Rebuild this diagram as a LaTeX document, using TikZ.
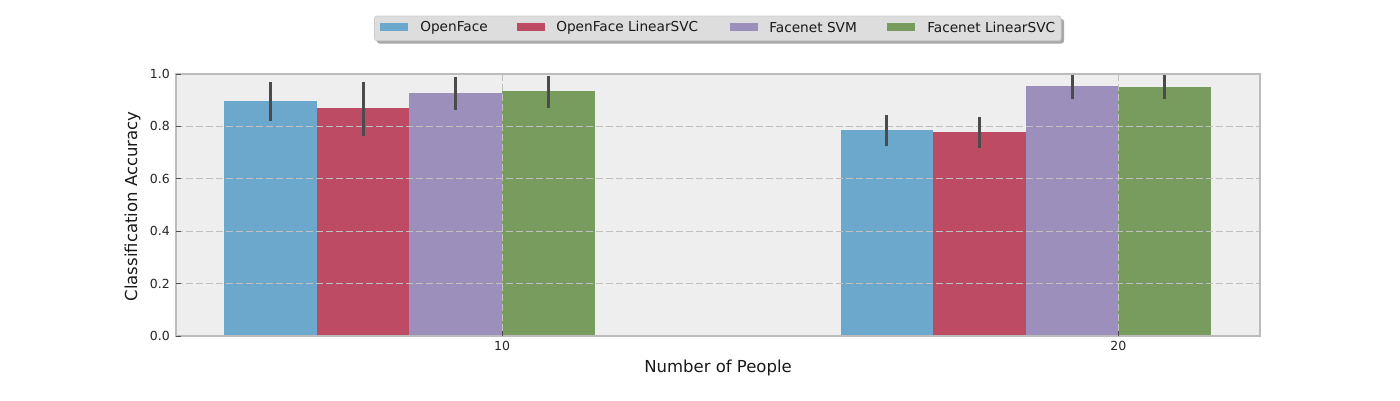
\documentclass[tikz,border=0pt]{standalone}
\usepackage{fontspec}
\setmainfont{DejaVu Sans}
\definecolor{cBlue}{RGB}{107,168,204}
\definecolor{cRed}{RGB}{188,75,99}
\definecolor{cPurple}{RGB}{157,143,187}
\definecolor{cGreen}{RGB}{120,155,94}
\definecolor{axbg}{RGB}{238,238,238}
\definecolor{spine}{RGB}{188,188,188}
\definecolor{gridc}{RGB}{192,192,192}
\definecolor{errc}{RGB}{75,75,75}
\definecolor{legbg}{RGB}{221,221,221}
\definecolor{legedge}{RGB}{204,204,204}
\definecolor{legshadow}{RGB}{168,168,168}
\definecolor{tickc}{RGB}{80,80,80}
\tikzset{
  bar/.style={draw=none},
  errbar/.style={draw=errc,line width=2.4pt},
  gridline/.style={draw=gridc,line width=0.8pt,dash pattern=on 5.6pt off 2.4pt},
  ticklab/.style={font=\fontsize{10}{12}\selectfont,text=black!85,inner sep=0pt},
  axlab/.style={font=\fontsize{13.2}{15}\selectfont,text=black!90,inner sep=0pt},
  leglab/.style={font=\fontsize{10.95}{13}\selectfont,text=black!90,inner sep=0pt,anchor=west},
  tickmark/.style={draw=tickc,line width=0.8pt},
}
\begin{document}
\begin{tikzpicture}[x=0.8pt,y=-0.8pt]
\useasboundingbox (0,0) rectangle (1400,400);
% axes background
\fill[axbg] (176,74) rectangle (1260,336);
% bars group 10
\fill[bar,cBlue]   (224.2,101)  rectangle (316.8,336);
\fill[bar,cRed]    (316.8,108)  rectangle (409.4,336);
\fill[bar,cPurple] (409.4,92.7) rectangle (502,336);
\fill[bar,cGreen]  (502,91)     rectangle (594.6,336);
% bars group 20
\fill[bar,cBlue]   (840.6,130)  rectangle (933.2,336);
\fill[bar,cRed]    (933.2,132)  rectangle (1025.8,336);
\fill[bar,cPurple] (1025.8,86)  rectangle (1118.4,336);
\fill[bar,cGreen]  (1118.4,87)  rectangle (1211,336);
% grid
\foreach \yy in {126.4,178.8,231.2,283.6} {
  \draw[gridline] (176,\yy) -- (1260,\yy);
}
\draw[gridline] (502,74) -- (502,336);
\draw[gridline] (1118.4,74) -- (1118.4,336);
% error bars
\draw[errbar] (270.5,81.7) -- (270.5,121);
\draw[errbar] (363.1,81.7) -- (363.1,136);
\draw[errbar] (455.7,76.7) -- (455.7,110);
\draw[errbar] (548.3,75.7) -- (548.3,108);
\draw[errbar] (886.9,115.3) -- (886.9,146.3);
\draw[errbar] (979.5,116.7) -- (979.5,148.3);
\draw[errbar] (1072.1,74.7) -- (1072.1,98.7);
\draw[errbar] (1164.7,75.3) -- (1164.7,99.3);
% spines
\draw[spine,line width=0.9pt] (176,74) rectangle (1260,336);
% ticks
\foreach \yy/\lab in {74/1.0,126.4/0.8,178.8/0.6,231.2/0.4,283.6/0.2,336/0.0} {
  \draw[tickmark] (176,\yy) -- (181,\yy);
  \node[ticklab,anchor=east] (yt\lab) at (170,\yy) {\lab};
}
\draw[tickmark] (502,336) -- (502,331);
\draw[tickmark] (1118.4,336) -- (1118.4,331);
\node[ticklab,anchor=north] (xt10) at (502,341) {10};
\node[ticklab,anchor=north] (xt20) at (1118.4,341) {20};
% axis labels
\node[axlab,rotate=90] (ylab) at (132.5,206.5) {Classification Accuracy};
\node[axlab] (xlab) at (718,368) {Number of People};
% legend
\fill[legshadow,rounded corners=2pt] (377,19) rectangle (1064,43.5);
\draw[legedge,fill=legbg,line width=0.6pt,rounded corners=2pt] (374.5,16) rectangle (1061,40.7);
\fill[cBlue]   (380,22.7) rectangle (408,31.3);
\fill[cRed]    (516.6,22.7) rectangle (544.9,31.3);
\fill[cPurple] (729.6,22.7) rectangle (757.9,31.3);
\fill[cGreen]  (887,22.7) rectangle (915,31.3);
\node[leglab] (l1) at (420,27.5) {OpenFace};
\node[leglab] (l2) at (556,27.5) {OpenFace LinearSVC};
\node[leglab] (l3) at (769,27.5) {Facenet SVM};
\node[leglab] (l4) at (927,27.5) {Facenet LinearSVC};
\end{tikzpicture}
\end{document}
